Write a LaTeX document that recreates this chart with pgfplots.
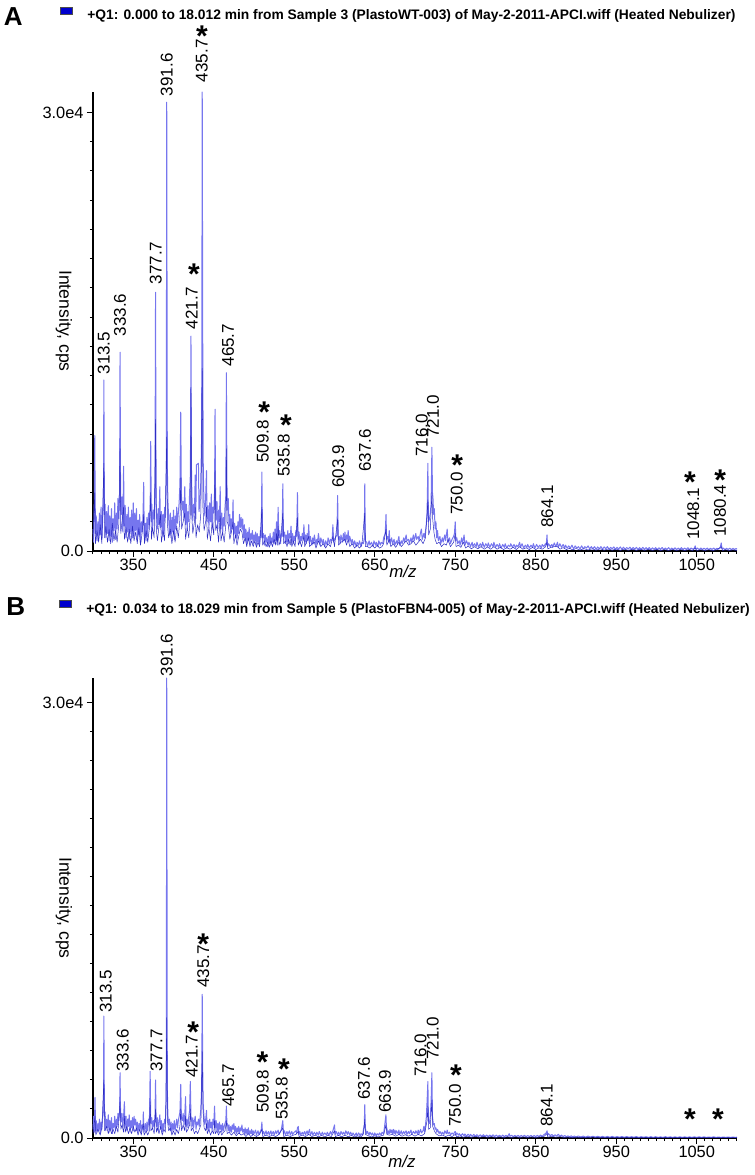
\documentclass[border=0pt]{standalone}
\usepackage{fontspec}
\setmainfont{Liberation Sans}
\usepackage{pgfplots}
\pgfplotsset{compat=1.18}
\definecolor{spec}{RGB}{118,118,238}
\definecolor{specdark}{RGB}{45,45,195}
\definecolor{sq}{RGB}{0,0,205}
\newcommand\pklab[3]{\node[rotate=90,anchor=west,inner sep=0pt,font=\fontsize{8.5}{9}\selectfont] at (axis cs:#1,#2) {#3};}
\newcommand\pkast[2]{\node[anchor=base,inner sep=0pt,font=\fontsize{15}{15}\bfseries\selectfont,yshift=-8.8pt] at (axis cs:#1,#2) {*};}
\pgfplotsset{
  specaxis/.style={
    scale only axis, width=322pt,
    xmin=300, xmax=1100, ymin=0,
    axis x line*=bottom, axis y line*=left,
    xtick={350,450,...,1050}, xticklabels={350,450,550,650,750,850,950,1050},
    minor xtick={300,310,...,1100},
    ytick={0,30000}, yticklabels={0.0,3.0e4},
    minor ytick={2000,4000,...,30000},
    tick align=outside,
    major tick length=3pt, minor tick length=1.6pt,
    tick style={black, line width=0.5pt},
    axis line style={black, line width=0.6pt},
    ticklabel style={font=\fontsize{8.2}{9}\selectfont},
    xticklabel style={inner sep=1pt},
    yticklabel style={inner sep=1.5pt},
    clip=false, scaled y ticks=false,
  },
  light/.style={spec, line width=0.5pt, line join=round},
  dark/.style={specdark, line width=0.25pt, line join=round},
}
\begin{document}
\begin{tikzpicture}
\useasboundingbox (0,0) rectangle (377.5pt,-587.5pt);
% ---------------- Panel A ----------------
\node[anchor=base west,inner sep=0pt,font=\fontsize{13}{13}\bfseries\selectfont] at (1.7pt,-12.5pt) {A};
\filldraw[fill=sq,draw=black!70,line width=0.3pt] (30pt,-3.7pt) rectangle (36.3pt,-7pt);
\node[anchor=base west,inner sep=0pt,font=\fontsize{6.9}{7}\bfseries\selectfont] at (43.5pt,-9.7pt) {+Q1: 0.000 to 18.012 min from Sample 3 (PlastoWT-003) of May-2-2011-APCI.wiff (Heated Nebulizer)};
\node[rotate=-90,inner sep=0pt,font=\fontsize{8.8}{9}\selectfont] at (32pt,-160.5pt) {Intensity, cps};
\node[inner sep=0pt,font=\fontsize{8.4}{9}\itshape\selectfont] at (201.5pt,-285.5pt) {m/z};
\begin{axis}[specaxis, at={(46.5pt,-275.5pt)}, anchor=south west, height=229.5pt, ymax=31400]
\addplot[light] coordinates {
(300,1500)(300.8,600)(301.5,2800)(302.2,7900)(303,1200)(304,2400)(305,700)(306,2000)(307,900)(308,2600)
(309,1100)(310,3000)(311,800)(312,2200)(313,3500)(313.5,11700)(314.2,2500)(315,3200)(316,900)(317,2700)
(318,1200)(319,3100)(320,700)(321,2400)(322,1000)(323,2900)(324,600)(325,2200)(326,1400)(327,3300)
(328,800)(329,2600)(330,1500)(331,3600)(332,2200)(333,4000)(333.6,13600)(334.3,3200)(335,2500)(336,3700)
(337,1300)(338,5800)(338.8,1700)(340,3100)(341,900)(342,2500)(343,1300)(344,3000)(345,800)(346,2300)
(347,1200)(348,2800)(349,900)(350,3300)(351,1000)(352,2600)(353,1400)(354,2900)(355,700)(356,2100)
(357,1100)(358,2500)(359,600)(360,2000)(361,1300)(362,2200)(363,4700)(363.7,800)(365,1900)(366,700)
(367,2300)(368,1000)(369,2600)(370,1800)(371,3000)(371.7,7500)(372.5,2000)(373,3200)(374,1400)(375,2800)
(376,2200)(377,4200)(377.7,17700)(378.4,3500)(379,2400)(380,1500)(381,2900)(382,1800)(383,4400)(383.8,1600)
(385,2700)(386,1200)(387,2500)(388,1000)(389,3000)(390,2300)(391,4500)(391.6,30700)(392.3,6000)(393,3500)
(394,2200)(395,1100)(396,2600)(397,900)(398,2300)(399,1300)(400,2800)(401,800)(402,2400)(403,1500)
(404,3000)(405,1900)(406,2600)(407,3300)(408,4600)(409,9500)(409.8,3800)(411,2800)(412,3400)(413,2300)
(414,4400)(415,1800)(416,3200)(417,1500)(418,2700)(419,2000)(420,4000)(421,5300)(421.7,14700)(422.4,5000)
(423,3600)(424,2100)(425,3200)(426,2600)(427,5200)(427.7,2200)(428.5,5900)(431,6000)(431.7,2700)(433,3500)
(434,4800)(435,8000)(435.7,31400)(436.4,12500)(437,5500)(438,3000)(439,2400)(440,3800)(441,5500)(441.7,2000)
(443,3100)(444,1600)(445,3300)(446,2000)(447,3900)(448,1500)(449,3000)(450,2600)(451,4000)(451.6,9700)
(452.3,3200)(453,2100)(454,3400)(455,1500)(456,2800)(457,2000)(458,4400)(458.7,1500)(460,2600)(461,1100)
(462,2300)(463,1700)(464,3000)(465,3800)(465.7,12200)(466.4,4500)(467,2800)(468,3600)(469,1700)(470,2500)
(471,1200)(472,2200)(473,1500)(474,3500)(474.7,1100)(476,1900)(477,900)(478,1700)(479,800)(480,2000)
(481,1200)(482,2500)(483,1600)(484,2300)(485,1500)(486,2200)(487,900)(488,1800)(489,700)(490,1500)
(491,500)(492,1300)(493,700)(494,1600)(495,500)(496,1200)(497,800)(498,1400)(499,500)(500,1100)
(501,700)(502,1300)(503,400)(504,1200)(505,600)(506,1000)(507,500)(508,1400)(509,900)(509.8,5400)
(510.6,900)(512,1200)(513,400)(514,1100)(515,600)(516,900)(517,300)(518,1000)(519,500)(520,1200)
(521,400)(522,900)(523,600)(524,1300)(525,500)(526,1500)(527,700)(528,2000)(529,600)(530,3000)
(530.8,900)(532,1400)(533,500)(534,1200)(535,1000)(535.8,4600)(536.6,1000)(538,1300)(539,500)(540,1100)
(541,600)(542,1400)(543,500)(544,1200)(545,900)(546,1700)(547,600)(548,1200)(549,500)(550,1000)
(551,700)(552,1400)(553,1000)(554,4000)(554.8,800)(556,1300)(557,500)(558,1000)(559,700)(560,1200)
(561,800)(562,1800)(563,600)(564,1100)(565,500)(566,1200)(567,700)(568,1800)(569,500)(570,1000)
(572,400)(573,900)(574,500)(575,1100)(577,400)(578,800)(579,600)(580,1200)(582,400)(583,900)
(585,500)(586,800)(588,300)(589,700)(591,400)(592,900)(594,500)(595,800)(597,700)(598,1800)
(599,600)(601,900)(603,1100)(603.9,3800)(604.7,800)(606,1000)(607,500)(608,1100)(610,600)(611,1200)
(612,700)(613,1300)(614,600)(615,1100)(616,800)(617,1400)(618,600)(619,1000)(621,500)(622,800)
(624,400)(625,700)(627,300)(628,600)(630,400)(631,700)(633,300)(634,600)(636,500)(637,900)
(637.6,4600)(638.3,700)(640,600)(641,300)(643,700)(644,400)(646,600)(648,300)(649,700)(651,400)
(652,600)(654,300)(655,700)(657,400)(658,600)(660,500)(661,900)(663,1200)(664,2500)(664.7,800)
(666,1000)(667,600)(668,1400)(669,500)(671,900)(672,500)(674,800)(675,400)(677,700)(678,500)
(680,1000)(681,400)(683,700)(684,500)(686,900)(687,600)(689,1100)(690,700)(692,800)(693,500)
(695,900)(696,600)(698,1100)(699,700)(701,1200)(702,800)(704,1000)(705,700)(707,1300)(708,1500)
(709,800)(711,1200)(712,900)(714,1800)(715,2500)(716,6000)(716.7,2000)(718,2200)(719,2600)(720,3200)
(721,7100)(721.7,4000)(722.5,3500)(723,2500)(724,2900)(725,1500)(726,2000)(727,900)(728,1400)(729,700)
(731,1000)(732,500)(734,900)(735,600)(737,1100)(738,700)(740,1500)(741,600)(743,900)(744,500)
(746,800)(748,1000)(749,1200)(750,2000)(750.8,700)(752,900)(753,500)(755,700)(756,400)(758,900)
(759,500)(761,1100)(762,400)(764,700)(766,400)(767,600)(769,300)(771,600)(772,300)(774,500)
(776,300)(777,600)(779,250)(781,500)(783,300)(784,600)(786,250)(788,500)(790,300)(791,550)
(793,250)(795,500)(797,300)(798,600)(800,250)(802,450)(804,250)(805,500)(807,200)(809,450)
(811,250)(812,500)(814,200)(816,400)(818,300)(819,500)(821,250)(823,450)(825,200)(826,400)
(828,300)(830,600)(831,250)(833,500)(835,200)(837,400)(839,250)(840,450)(842,200)(844,400)
(846,250)(847,500)(849,200)(851,450)(853,250)(855,400)(857,200)(858,450)(860,300)(862,500)
(863,400)(864,1100)(864.7,300)(866,500)(868,300)(870,450)(871,250)(873,550)(875,300)(877,600)
(878,250)(880,500)(882,250)(884,450)(886,200)(887,400)(889,200)(891,350)(893,200)(895,400)
(897,150)(899,350)(901,200)(903,300)(905,150)(907,350)(909,150)(911,300)(913,200)(915,350)
(917,150)(919,300)(921,150)(923,300)(925,120)(927,280)(929,150)(931,300)(933,130)(935,280)
(937,150)(939,300)(941,120)(943,250)(945,150)(947,280)(949,120)(951,250)(953,130)(955,280)
(957,120)(959,260)(961,120)(963,240)(965,140)(967,260)(969,110)(971,240)(973,130)(975,250)
(977,110)(979,230)(981,120)(983,250)(985,110)(987,230)(989,120)(991,240)(993,100)(995,220)
(997,120)(999,230)(1001,100)(1003,220)(1005,110)(1007,240)(1009,100)(1011,210)(1013,110)(1015,230)
(1017,100)(1019,200)(1021,110)(1023,220)(1025,100)(1027,200)(1029,110)(1031,230)(1033,100)(1035,200)
(1037,110)(1039,220)(1041,100)(1043,210)(1045,120)(1047,200)(1048.1,350)(1049,120)(1051,200)(1053,100)
(1055,210)(1057,100)(1059,190)(1061,110)(1063,200)(1065,100)(1067,190)(1069,110)(1071,200)(1073,100)
(1075,190)(1077,120)(1079,200)(1080.4,550)(1081.5,120)(1083,200)(1085,100)(1087,180)(1089,110)(1091,190)
(1093,100)(1095,180)(1097,110)(1099,170)(1100,120)
};
\addplot[dark] coordinates {
(300,800)(302.2,4000)(303,500)(305,1400)(307,600)(309,1800)(311,500)(313.5,6000)(314.5,900)(316,1700)
(318,600)(320,1500)(322,500)(324,1900)(326,700)(328,1400)(330,600)(332,1800)(333.6,7000)(334.5,1200)
(336,2000)(338,3000)(339,800)(341,1600)(343,600)(345,1500)(347,500)(349,1700)(351,700)(353,1300)
(355,500)(357,1600)(359,400)(361,1200)(363,2500)(364,500)(366,1400)(368,600)(370,1500)(371.7,4000)
(372.6,800)(374,1600)(376,900)(377.7,9000)(378.6,1500)(380,700)(382,1700)(383.8,2500)(385,600)(387,1400)
(389,700)(391.6,7800)(392.5,1800)(394,900)(396,1500)(398,500)(400,1400)(402,600)(404,1700)(406,900)
(408,2200)(409,5000)(410,1500)(412,2000)(414,2600)(415,800)(417,1600)(419,900)(421,2600)(421.7,11200)
(422.6,2500)(424,1200)(426,2000)(427,3000)(428,900)(430,1800)(432,1300)(434,2600)(435.7,12500)(436.6,3000)
(438,1400)(440,2000)(441,3000)(442,800)(444,1600)(446,700)(448,1900)(450,1100)(451.6,5500)(452.5,1400)
(454,1800)(456,600)(458,2400)(459,700)(461,1300)(463,600)(465,1800)(465.7,7000)(466.6,2000)(468,1800)
(470,800)(472,1300)(474,2000)(475,500)(477,1100)(479,400)(481,1000)(483,1500)(485,1300)(487,500)
(489,900)(491,300)(493,900)(495,300)(497,700)(499,300)(501,700)(503,250)(505,600)(507,300)
(509.8,3000)(510.8,400)(513,700)(515,300)(517,600)(519,250)(521,700)(523,300)(525,800)(527,400)
(528,1200)(529,400)(530,1700)(531,400)(533,700)(535.8,2600)(536.8,500)(539,700)(541,300)(543,800)
(545,400)(546,1000)(547,300)(549,700)(551,300)(554,2300)(555,400)(557,700)(559,300)(562,1000)
(563,300)(565,600)(568,1000)(569,300)(572,500)(575,600)(577,200)(580,700)(583,300)(586,500)
(589,200)(592,500)(595,300)(598,1000)(600,300)(603.9,2200)(605,400)(608,600)(611,700)(613,800)
(615,400)(617,800)(619,300)(622,500)(625,200)(628,400)(631,200)(634,400)(637.6,2600)(638.5,300)
(641,300)(644,200)(647,400)(650,200)(653,400)(656,200)(659,300)(661,500)(664,1500)(665,400)
(668,800)(670,300)(673,500)(676,250)(680,600)(683,300)(686,500)(689,700)(692,400)(695,500)
(698,700)(701,400)(704,600)(707,800)(710,500)(713,900)(716,3500)(717,1100)(719,1500)(721,4000)
(722,2200)(723.5,1300)(725,800)(727,500)(730,600)(733,300)(736,500)(739,400)(741,800)(744,300)
(748,600)(750,1200)(751,300)(754,400)(757,250)(760,600)(763,200)(766,350)(770,150)(774,300)
(778,150)(782,300)(786,120)(790,280)(794,120)(798,300)(802,120)(806,250)(810,100)(814,230)
(818,120)(822,250)(826,100)(830,300)(834,120)(838,220)(842,100)(846,250)(850,100)(854,220)
(858,120)(862,280)(864,600)(865,150)(869,250)(873,300)(877,300)(880,120)(884,230)(888,100)
(892,180)(896,80)(900,170)(905,70)(910,160)(915,70)(920,150)(925,60)(930,150)(935,60)
(940,140)(945,60)(950,130)(955,50)(960,130)(965,50)(970,120)(975,50)(980,120)(985,50)
(990,110)(995,50)(1000,110)(1005,40)(1010,100)(1015,40)(1020,100)(1025,40)(1030,100)(1035,40)
(1040,100)(1045,40)(1048,200)(1050,40)(1055,90)(1060,40)(1065,90)(1070,40)(1075,90)(1080.4,300)
(1082,40)(1086,90)(1090,40)(1095,80)(1100,40)
};
\pklab{313.5}{12055}{313.5}
\pklab{333.5}{14658}{333.6}
\pklab{378}{18219}{377.7}
\pklab{391.6}{31096}{391.6}
\pklab{422.6}{15137}{421.7}\pkast{425.5}{19452}
\pklab{435.2}{32055}{435.7}\pkast{435.5}{35685}
\pklab{467.7}{12603}{465.7}
\pklab{511}{6027}{509.8}\pkast{512.8}{10000}
\pklab{537}{5068}{535.8}\pkast{539.7}{9110}
\pklab{604.7}{4315}{603.9}
\pklab{637.9}{5411}{637.6}
\pklab{708.3}{6438}{716.0}
\pklab{722.4}{7740}{721.0}
\pklab{751.8}{2466}{750.0}\pkast{752.5}{6370}
\pklab{864.4}{1575}{864.1}
\pklab{1045.7}{753}{1048.1}\pkast{1041.6}{5205}
\pklab{1078.9}{959}{1080.4}\pkast{1079}{5342}
\end{axis}
% ---------------- Panel B ----------------
\node[anchor=base west,inner sep=0pt,font=\fontsize{13}{13}\bfseries\selectfont] at (3.0pt,-307.5pt) {B};
\filldraw[fill=sq,draw=black!70,line width=0.3pt] (29.5pt,-300pt) rectangle (35.8pt,-303.5pt);
\node[anchor=base west,inner sep=0pt,font=\fontsize{6.9}{7}\bfseries\selectfont] at (43pt,-306.5pt) {+Q1: 0.034 to 18.029 min from Sample 5 (PlastoFBN4-005) of May-2-2011-APCI.wiff (Heated Nebulizer)};
\node[rotate=-90,inner sep=0pt,font=\fontsize{8.8}{9}\selectfont] at (32pt,-454pt) {Intensity, cps};
\node[inner sep=0pt,font=\fontsize{8.4}{9}\itshape\selectfont] at (201pt,-580.5pt) {m/z};
\begin{axis}[specaxis, at={(46.5pt,-569pt)}, anchor=south west, height=230pt, ymax=31700]
\addplot[light] coordinates {
(300,600)(300.8,1500)(301.6,400)(302.5,2800)(303.3,500)(304,1200)(305,400)(306,1000)(307,500)(308,1300)
(309,300)(310,1100)(311,600)(312,1500)(313,2000)(313.5,8400)(314.2,1500)(315,1800)(316,500)(317,1300)
(318,700)(319,1600)(320,400)(321,1200)(322,600)(323,1400)(324,300)(325,1000)(326,700)(327,1500)
(328,500)(329,1300)(330,800)(331,1700)(332,1200)(333,1800)(333.6,4500)(334.3,1500)(335,1100)(336,1700)
(337,800)(338,1500)(339,2500)(339.8,700)(341,1500)(342,500)(343,1300)(344,800)(345,1600)(346,400)
(347,1200)(348,700)(349,1400)(350,500)(351,1500)(352,900)(353,1300)(354,500)(355,1100)(356,400)
(357,1000)(358,600)(359,1200)(360,400)(361,900)(362,700)(362.5,1800)(363.3,400)(365,1000)(366,400)
(367,1100)(368,500)(369,1300)(370,900)(371,4600)(371.8,1000)(373,1400)(374,600)(375,1200)(376,800)
(377,1500)(377.7,4000)(378.4,1200)(379,800)(380,1400)(381,500)(382,1100)(383,1600)(384,600)(385,1200)
(386,400)(387,1000)(388,600)(389,1300)(390,1000)(391,2500)(391.6,31700)(392.3,3500)(393,1600)(394,900)
(395,1300)(396,500)(397,1100)(398,400)(399,1000)(400,600)(401,1200)(402,500)(403,900)(404,1300)
(405,700)(406,1200)(407,1500)(408,1800)(409,3700)(409.8,1400)(411,1200)(412,1700)(413,900)(414,1600)
(415,2850)(415.7,800)(417,1300)(418,700)(419,1500)(420,1900)(420.9,3900)(421.7,1500)(422.5,1300)(423,800)
(424,1400)(425,700)(426,1200)(427,1500)(428,600)(429,1100)(430,900)(431,1300)(432,800)(433,1400)
(434,2000)(435,3500)(435.7,9900)(436.4,4000)(437,2200)(438,1400)(439,900)(440,1300)(441,1900)(441.8,600)
(443,1200)(444,500)(445,1300)(446,700)(447,1100)(448,500)(449,1300)(450,900)(451,2200)(451.8,700)
(453,1200)(454,500)(455,1000)(456,400)(457,1100)(458,600)(459,900)(460,400)(461,1000)(462,500)
(463,800)(464,1000)(465,1200)(465.7,2200)(466.4,900)(467,1000)(468,500)(469,900)(470,400)(471,800)
(472,400)(473,900)(474,600)(475,1000)(476,400)(477,800)(478,300)(479,700)(480,400)(481,800)
(482,300)(483,700)(484,500)(485,900)(486,400)(487,600)(488,300)(489,700)(490,250)(491,600)
(492,300)(493,700)(494,250)(495,500)(496,300)(497,600)(498,200)(499,500)(500,300)(502,550)
(503,200)(505,500)(506,250)(508,450)(509,600)(509.8,1100)(510.6,300)(512,450)(513,200)(515,500)
(516,250)(518,450)(519,200)(521,500)(522,250)(524,450)(525,200)(527,500)(528,300)(530,550)
(531,250)(533,450)(534,600)(535.8,1200)(536.6,300)(538,500)(539,200)(541,450)(542,250)(544,500)
(545,200)(547,450)(548,250)(550,400)(552,500)(553,300)(554,700)(555,800)(555.8,250)(557,450)
(558,200)(560,400)(561,250)(563,450)(564,200)(566,500)(567,250)(569,600)(570,200)(572,450)
(573,200)(575,400)(577,200)(578,400)(580,200)(581,450)(583,200)(585,400)(586,200)(588,350)
(590,200)(591,400)(593,200)(595,450)(596,250)(598,500)(600,900)(600.8,250)(602,450)(604,200)
(605,400)(607,200)(608,450)(610,250)(611,400)(613,250)(614,500)(616,250)(617,450)(619,200)
(620,400)(622,200)(623,350)(625,150)(627,350)(628,150)(630,350)(632,150)(633,300)(635,200)
(636,600)(637,900)(637.6,2300)(638.3,700)(639,500)(640,300)(641,450)(643,200)(644,400)(646,200)
(647,350)(649,150)(650,350)(652,150)(653,300)(655,200)(656,350)(658,200)(659,400)(661,300)
(662,700)(663.9,1600)(664.6,600)(665,700)(666,300)(667,500)(668,300)(669,600)(670,350)(671,550)
(672,300)(673,600)(674,300)(675,550)(676,250)(677,500)(679,300)(680,550)(681,250)(683,500)
(684,250)(686,450)(687,300)(689,500)(690,250)(692,450)(693,300)(695,550)(696,250)(698,450)
(700,300)(701,500)(703,300)(704,550)(705,300)(707,600)(708,350)(710,500)(711,800)(712,400)
(714,1400)(715,2500)(716,3900)(716.7,1200)(718,1000)(719,1500)(720,2500)(721,4500)(721.7,1500)(722.5,1100)
(723,900)(724,1000)(725,600)(726,700)(727,400)(728,600)(730,300)(731,450)(733,250)(734,400)
(736,250)(737,500)(739,300)(740,550)(741,300)(743,400)(744,200)(746,350)(748,250)(749,400)
(750,450)(750.8,200)(752,350)(754,200)(755,300)(757,150)(759,300)(761,150)(762,280)(764,130)
(766,260)(768,130)(769,250)(771,120)(773,250)(775,120)(777,230)(779,110)(781,220)(783,110)
(785,230)(787,100)(789,210)(791,100)(793,200)(795,110)(797,220)(799,100)(801,200)(803,100)
(805,190)(807,100)(809,200)(811,90)(813,190)(815,100)(817,300)(818,120)(820,190)(822,90)
(824,180)(826,100)(828,190)(830,90)(832,180)(834,100)(836,190)(838,90)(840,170)(842,100)
(844,180)(846,90)(848,170)(850,100)(852,180)(854,100)(856,200)(858,120)(860,230)(862,300)
(863,350)(864.1,500)(864.8,200)(866,300)(868,150)(870,250)(872,130)(874,220)(876,130)(878,260)
(880,120)(882,200)(884,100)(886,170)(888,90)(890,150)(892,80)(894,150)(896,80)(898,140)
(900,70)(903,140)(906,70)(909,130)(912,60)(915,130)(918,60)(921,120)(924,60)(927,120)
(930,60)(933,110)(936,50)(939,110)(942,50)(945,110)(948,50)(951,100)(954,50)(957,100)
(960,50)(963,100)(966,50)(969,90)(972,50)(975,100)(978,40)(981,90)(984,50)(987,90)
(990,40)(993,90)(996,40)(999,90)(1002,40)(1005,80)(1008,40)(1011,90)(1014,40)(1017,80)
(1020,40)(1023,80)(1026,40)(1029,80)(1032,40)(1035,80)(1038,40)(1041,80)(1044,40)(1047,80)
(1050,40)(1053,80)(1056,40)(1059,80)(1062,40)(1065,70)(1068,40)(1071,80)(1074,40)(1077,70)
(1080,40)(1083,70)(1086,40)(1089,70)(1092,40)(1095,70)(1098,40)(1100,60)
};
\addplot[dark] coordinates {
(300,300)(302.5,1500)(303.5,200)(306,600)(309,200)(311,700)(313.5,4000)(314.5,500)(317,800)(319,300)
(321,700)(323,300)(325,600)(327,300)(329,800)(331,400)(333.6,2500)(334.6,600)(336,900)(338,400)
(339,1500)(340,400)(342,800)(344,300)(346,700)(348,300)(350,800)(352,400)(354,700)(356,200)
(358,600)(360,200)(362.5,1000)(363.5,200)(366,500)(368,200)(370,500)(371,2500)(372,500)(374,700)
(376,300)(377.7,2000)(378.7,400)(380,700)(382,300)(384,800)(386,200)(388,600)(390,400)(391.6,8300)
(392.5,1200)(394,500)(396,700)(398,200)(400,500)(402,200)(404,600)(406,300)(408,800)(409,2000)
(410,500)(412,900)(414,500)(415,1500)(416,400)(418,600)(420,900)(420.9,2000)(422,500)(424,700)
(426,300)(428,500)(430,300)(432,600)(434,900)(435.7,6000)(436.6,2000)(438,700)(440,500)(441,1000)
(442,300)(444,600)(446,200)(448,500)(450,300)(451,1200)(452,300)(454,500)(456,200)(458,500)
(460,200)(462,400)(464,500)(465.7,1200)(466.6,300)(469,400)(472,200)(475,400)(478,150)(481,350)
(484,200)(487,300)(490,100)(493,300)(496,100)(499,250)(503,100)(507,250)(509.8,600)(511,100)
(515,200)(519,100)(523,200)(527,100)(531,250)(535.8,700)(537,100)(541,200)(545,100)(549,200)
(552,250)(555,450)(556,100)(560,200)(564,100)(568,250)(572,100)(576,200)(580,80)(584,180)
(588,80)(592,180)(596,100)(600,500)(601,100)(605,180)(609,80)(613,200)(617,80)(621,180)
(625,70)(629,150)(633,70)(636,300)(637.6,1300)(638.5,250)(642,150)(646,70)(650,150)(654,70)
(658,150)(661,200)(663.9,900)(665,250)(668,200)(672,250)(676,120)(680,250)(684,120)(688,230)
(692,120)(696,250)(700,130)(704,250)(708,150)(712,300)(715,1200)(716,2200)(717,600)(719,700)
(721,2600)(722,800)(724,500)(726,300)(730,150)(734,200)(738,100)(742,200)(746,100)(750,250)
(752,80)(756,150)(760,60)(765,130)(770,50)(775,120)(780,50)(785,110)(790,50)(795,100)
(800,40)(805,90)(810,40)(815,90)(820,40)(825,90)(830,40)(835,80)(840,40)(845,80)
(850,40)(855,80)(860,100)(864,300)(865,60)(870,120)(875,60)(880,100)(885,40)(890,70)
(895,30)(900,60)(910,30)(920,60)(930,30)(940,50)(950,30)(960,50)(970,20)(980,50)
(990,20)(1000,40)(1010,20)(1020,40)(1030,20)(1040,40)(1050,20)(1060,40)(1070,20)(1080,40)
(1090,20)(1100,30)
};
\pklab{316}{8621}{313.5}
\pklab{336.9}{4552}{333.6}
\pklab{379}{4552}{377.7}
\pklab{391.5}{31793}{391.6}
\pklab{422.6}{4138}{421.7}\pkast{424.6}{7793}
\pklab{437}{10345}{435.7}\pkast{437}{13883}
\pklab{468}{2138}{465.7}
\pklab{510.8}{1724}{509.8}\pkast{510.4}{5724}
\pklab{534.4}{1241}{535.8}\pkast{537.3}{5262}
\pklab{636.6}{2621}{637.6}
\pklab{662.7}{1724}{663.9}
\pklab{707}{4207}{716.0}
\pklab{722}{5379}{721.0}
\pklab{749.7}{759}{750.0}\pkast{751}{4828}
\pklab{863.6}{759}{864.1}
\pkast{1041.6}{1793}\pkast{1076.5}{1793}
\end{axis}
\end{tikzpicture}
\end{document}
